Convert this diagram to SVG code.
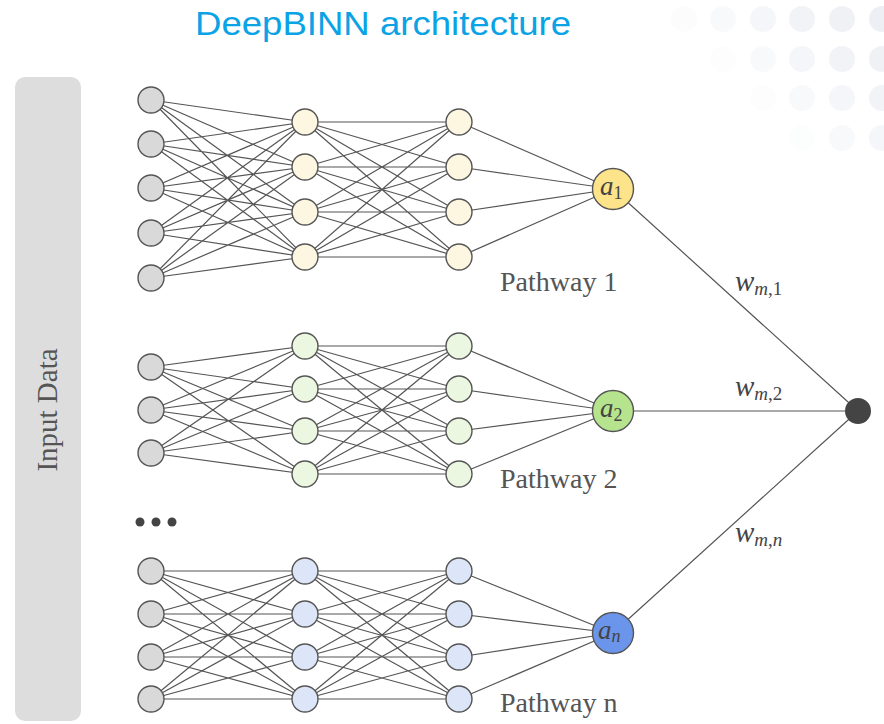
<svg xmlns="http://www.w3.org/2000/svg" width="884" height="724" viewBox="0 0 884 724">
<style>
.edge{fill:none;stroke:#555;stroke-width:1.2}
.nd{stroke:#555;stroke-width:1.4}
.in{fill:#d9d9d9}
.h1{fill:#fdf6e1}
.h2{fill:#ebf7e0}
.h3{fill:#dce6f8}
.lbl{font-family:"Liberation Serif","DejaVu Serif",serif;fill:#555}
.math{font-family:"Liberation Serif","DejaVu Serif",serif;fill:#444;font-style:italic}
.deco{fill:#e9ebf1}
</style>
<rect width="884" height="724" fill="#fff"/>
<g id="decoration">
<circle class="deco" cx="684" cy="19" r="13" opacity="0.15"/>
<circle class="deco" cx="723" cy="19" r="13" opacity="0.3"/>
<circle class="deco" cx="763" cy="19" r="13" opacity="0.45"/>
<circle class="deco" cx="802" cy="19" r="13" opacity="0.6"/>
<circle class="deco" cx="842" cy="19" r="13" opacity="0.7"/>
<circle class="deco" cx="882" cy="19" r="13" opacity="0.8"/>
<circle class="deco" cx="723" cy="59" r="13" opacity="0.1"/>
<circle class="deco" cx="763" cy="59" r="13" opacity="0.3"/>
<circle class="deco" cx="802" cy="59" r="13" opacity="0.45"/>
<circle class="deco" cx="842" cy="59" r="13" opacity="0.6"/>
<circle class="deco" cx="882" cy="59" r="13" opacity="0.7"/>
<circle class="deco" cx="763" cy="98" r="13" opacity="0.1"/>
<circle class="deco" cx="802" cy="98" r="13" opacity="0.3"/>
<circle class="deco" cx="842" cy="98" r="13" opacity="0.45"/>
<circle class="deco" cx="882" cy="98" r="13" opacity="0.6"/>
<circle class="deco" cx="802" cy="138" r="13" opacity="0.12"/>
<circle class="deco" cx="842" cy="138" r="13" opacity="0.3"/>
<circle class="deco" cx="882" cy="138" r="13" opacity="0.45"/>
</g>
<text id="title" x="383" y="35" text-anchor="middle" font-family="'Liberation Sans',Arial,sans-serif" font-size="33" fill="#0aa3e6" textLength="376" lengthAdjust="spacingAndGlyphs">DeepBINN architecture</text>
<g id="input-data">
<rect x="15" y="77" width="66" height="644" rx="10" fill="#dddddd"/>
<text class="lbl" transform="translate(57 410) rotate(-90)" text-anchor="middle" font-size="29">Input Data</text>
</g>
<g id="connectors">
<path class="edge" d="M151 100L305 122M151 100L305 167M151 100L305 212M151 100L305 257M151 144L305 122M151 144L305 167M151 144L305 212M151 144L305 257M151 188L305 122M151 188L305 167M151 188L305 212M151 188L305 257M151 233L305 122M151 233L305 167M151 233L305 212M151 233L305 257M151 278L305 122M151 278L305 167M151 278L305 212M151 278L305 257"/>
<path class="edge" d="M305 122L459 122M305 122L459 167M305 122L459 212M305 122L459 257M305 167L459 122M305 167L459 167M305 167L459 212M305 167L459 257M305 212L459 122M305 212L459 167M305 212L459 212M305 212L459 257M305 257L459 122M305 257L459 167M305 257L459 212M305 257L459 257"/>
<path class="edge" d="M459 122L613 189M459 167L613 189M459 212L613 189M459 257L613 189"/>
<path class="edge" d="M151 367L305 346M151 367L305 389M151 367L305 431M151 367L305 474M151 410L305 346M151 410L305 389M151 410L305 431M151 410L305 474M151 453L305 346M151 453L305 389M151 453L305 431M151 453L305 474"/>
<path class="edge" d="M305 346L459 346M305 346L459 389M305 346L459 431M305 346L459 474M305 389L459 346M305 389L459 389M305 389L459 431M305 389L459 474M305 431L459 346M305 431L459 389M305 431L459 431M305 431L459 474M305 474L459 346M305 474L459 389M305 474L459 431M305 474L459 474"/>
<path class="edge" d="M459 346L613 411M459 389L613 411M459 431L613 411M459 474L613 411"/>
<path class="edge" d="M151 571L305 571M151 571L305 614M151 571L305 657M151 571L305 699M151 614L305 571M151 614L305 614M151 614L305 657M151 614L305 699M151 657L305 571M151 657L305 614M151 657L305 657M151 657L305 699M151 699L305 571M151 699L305 614M151 699L305 657M151 699L305 699"/>
<path class="edge" d="M305 571L459 571M305 571L459 614M305 571L459 657M305 571L459 699M305 614L459 571M305 614L459 614M305 614L459 657M305 614L459 699M305 657L459 571M305 657L459 614M305 657L459 657M305 657L459 699M305 699L459 571M305 699L459 614M305 699L459 657M305 699L459 699"/>
<path class="edge" d="M459 571L613 633M459 614L613 633M459 657L613 633M459 699L613 633"/>
<path class="edge" d="M613 189L858 411M613 411L858 411M613 633L858 411"/>
</g>
<g id="pathway-1">
<circle class="nd in" cx="151" cy="100" r="13"/>
<circle class="nd in" cx="151" cy="144" r="13"/>
<circle class="nd in" cx="151" cy="188" r="13"/>
<circle class="nd in" cx="151" cy="233" r="13"/>
<circle class="nd in" cx="151" cy="278" r="13"/>
<circle class="nd h1" cx="305" cy="122" r="13"/>
<circle class="nd h1" cx="305" cy="167" r="13"/>
<circle class="nd h1" cx="305" cy="212" r="13"/>
<circle class="nd h1" cx="305" cy="257" r="13"/>
<circle class="nd h1" cx="459" cy="122" r="13"/>
<circle class="nd h1" cx="459" cy="167" r="13"/>
<circle class="nd h1" cx="459" cy="212" r="13"/>
<circle class="nd h1" cx="459" cy="257" r="13"/>
<text class="lbl" x="500" y="291" font-size="28">Pathway 1</text>
</g>
<g id="a1">
<circle class="nd" cx="613" cy="189" r="20.5" fill="#fde38a" stroke-width="2"/>
<text class="math" x="600" y="195" font-size="27">a<tspan font-style="normal" font-size="18" dy="4">1</tspan></text>
</g>
<g id="pathway-2">
<circle class="nd in" cx="151" cy="367" r="13"/>
<circle class="nd in" cx="151" cy="410" r="13"/>
<circle class="nd in" cx="151" cy="453" r="13"/>
<circle class="nd h2" cx="305" cy="346" r="13"/>
<circle class="nd h2" cx="305" cy="389" r="13"/>
<circle class="nd h2" cx="305" cy="431" r="13"/>
<circle class="nd h2" cx="305" cy="474" r="13"/>
<circle class="nd h2" cx="459" cy="346" r="13"/>
<circle class="nd h2" cx="459" cy="389" r="13"/>
<circle class="nd h2" cx="459" cy="431" r="13"/>
<circle class="nd h2" cx="459" cy="474" r="13"/>
<text class="lbl" x="500" y="488" font-size="28">Pathway 2</text>
</g>
<g id="a2">
<circle class="nd" cx="613" cy="411" r="20.5" fill="#b6e48e" stroke-width="2"/>
<text class="math" x="600" y="417" font-size="27">a<tspan font-style="normal" font-size="18" dy="4">2</tspan></text>
</g>
<g id="ellipsis">
<circle cx="140" cy="522" r="4.5" fill="#444"/>
<circle cx="156" cy="522" r="4.5" fill="#444"/>
<circle cx="172" cy="522" r="4.5" fill="#444"/>
</g>
<g id="pathway-n">
<circle class="nd in" cx="151" cy="571" r="13"/>
<circle class="nd in" cx="151" cy="614" r="13"/>
<circle class="nd in" cx="151" cy="657" r="13"/>
<circle class="nd in" cx="151" cy="699" r="13"/>
<circle class="nd h3" cx="305" cy="571" r="13"/>
<circle class="nd h3" cx="305" cy="614" r="13"/>
<circle class="nd h3" cx="305" cy="657" r="13"/>
<circle class="nd h3" cx="305" cy="699" r="13"/>
<circle class="nd h3" cx="459" cy="571" r="13"/>
<circle class="nd h3" cx="459" cy="614" r="13"/>
<circle class="nd h3" cx="459" cy="657" r="13"/>
<circle class="nd h3" cx="459" cy="699" r="13"/>
<text class="lbl" x="500" y="712" font-size="28">Pathway n</text>
</g>
<g id="an">
<circle class="nd" cx="613" cy="633" r="20.5" fill="#6b95ea" stroke-width="2"/>
<text class="math" x="598" y="639" font-size="27">a<tspan font-size="18" dy="3">n</tspan></text>
</g>
<g id="output">
<circle cx="858" cy="411" r="13" fill="#444"/>
</g>
<g id="weights">
<text class="math" x="735" y="291" font-size="29">w<tspan font-size="19" dy="4">m</tspan><tspan font-style="normal" font-size="19">,1</tspan></text>
<text class="math" x="735" y="396" font-size="29">w<tspan font-size="19" dy="4">m</tspan><tspan font-style="normal" font-size="19">,2</tspan></text>
<text class="math" x="735" y="542" font-size="29">w<tspan font-size="19" dy="4">m</tspan><tspan font-style="normal" font-size="19">,</tspan><tspan font-size="19">n</tspan></text>
</g>
</svg>
